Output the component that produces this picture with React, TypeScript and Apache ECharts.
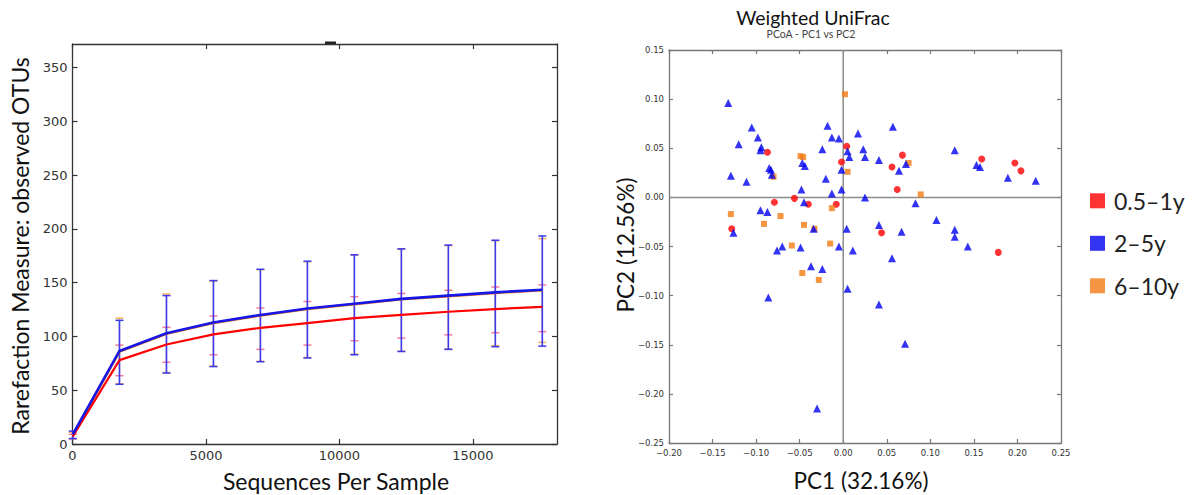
import React, { useEffect, useRef } from 'react';
import * as echarts from 'echarts';

// ---------- Rarefaction (left) ----------
const seqPerSample = [10, 1760, 3520, 5280, 7040, 8800, 10560, 12320, 14080, 15840, 17600];
const otu05to1yMean = [7, 78, 92.5, 102, 108, 112.5, 117, 120, 123, 125.5, 127.5];
const otu05to1yLow = [5, 63.5, 76, 83, 88, 92, 96, 98.5, 101.5, 103.5, 104.5];
const otu05to1yHigh = [9, 92, 108.5, 119, 126.5, 132.5, 137, 140, 143, 146, 148];
const otu2to5yMean = [9, 86.5, 103, 113, 120, 126, 130.5, 135, 138, 141, 143.5];
const otu2to5yLow = [5, 55.5, 66, 72, 76.5, 80, 83, 86, 88, 90.5, 91];
const otu2to5yHigh = [12, 115, 138, 152, 162.5, 170, 176, 181.5, 185, 189.5, 193.5];
const otu6to10yMean = [8, 86, 102.5, 112.5, 119.5, 125.5, 130, 134.5, 137.5, 140.5, 143];
const otu6to10yLow = [5, 56, 66.5, 72.5, 77, 80.5, 83.5, 86.5, 88.5, 91.5, 94.5];
const otu6to10yHigh = [11, 117, 139.5, 151.5, 162, 169.5, 175.5, 181, 184.5, 189, 191];
const seqTicks = [0, 5000, 10000, 15000];
const otuTicks = [0, 50, 100, 150, 200, 250, 300, 350];

// ---------- PCoA (right) ----------
const pcoa05to1y: number[][] = [
  [-0.087, 0.046], [-0.079, -0.005], [-0.056, -0.001], [-0.040, -0.007], [-0.008, -0.007],
  [-0.002, 0.036], [0.004, 0.052], [0.068, 0.043], [0.056, 0.031], [0.062, 0.008],
  [0.159, 0.039], [0.197, 0.035], [0.204, 0.027], [-0.128, -0.032], [0.044, -0.036], [0.178, -0.056],
];
const pcoa2to5y: number[][] = [
  [-0.132, 0.096], [-0.105, 0.071], [-0.098, 0.061], [-0.120, 0.054], [-0.094, 0.051],
  [-0.095, 0.048], [-0.129, 0.022], [-0.111, 0.016], [-0.085, 0.030], [-0.083, 0.028],
  [-0.082, 0.023], [-0.048, 0.008], [-0.047, 0.035], [-0.044, 0.032], [-0.024, 0.049],
  [-0.018, 0.073], [-0.013, 0.061], [-0.005, 0.060], [-0.020, 0.019], [-0.013, 0.004],
  [-0.002, 0.008], [-0.002, 0.028], [0.005, 0.047], [0.007, 0.041], [0.017, 0.065],
  [-0.045, -0.005], [-0.095, -0.013], [-0.087, -0.015], [0.057, 0.072], [0.023, 0.049],
  [0.025, 0.041], [0.041, 0.038], [0.064, 0.027], [0.072, 0.034], [0.128, 0.048],
  [0.153, 0.033], [0.157, 0.031], [0.189, 0.020], [0.221, 0.017], [0.025, 0.000],
  [0.083, -0.006], [0.107, -0.023], [-0.126, -0.036], [-0.034, -0.032], [0.004, -0.032],
  [-0.076, -0.054], [-0.070, -0.050], [-0.049, -0.051], [-0.005, -0.050], [0.011, -0.054],
  [-0.037, -0.070], [-0.024, -0.073], [0.005, -0.093], [-0.086, -0.102], [0.041, -0.028],
  [0.067, -0.035], [0.128, -0.033], [0.128, -0.040], [0.143, -0.050], [0.056, -0.062],
  [0.041, -0.109], [0.071, -0.149], [-0.030, -0.215],
];
const pcoa6to10y: number[][] = [
  [0.002, 0.105], [-0.049, 0.042], [-0.046, 0.041], [-0.080, 0.021], [0.005, 0.026],
  [-0.129, -0.017], [-0.072, -0.019], [-0.013, -0.011], [0.075, 0.035], [0.089, 0.003],
  [-0.091, -0.027], [-0.045, -0.028], [-0.033, -0.032], [-0.059, -0.049], [-0.015, -0.047],
  [-0.047, -0.077], [-0.028, -0.084],
];
const pc1Ticks = [-0.2, -0.15, -0.1, -0.05, 0, 0.05, 0.1, 0.15, 0.2, 0.25];
const pc2Ticks = [-0.25, -0.2, -0.15, -0.1, -0.05, 0, 0.05, 0.1, 0.15];
const groupNames = ['0.5–1y', '2–5y', '6–10y'];

const RED = '#ff0000';
const BLUE = '#0000f0';
const ORANGE = '#f27b12';
const TICK_FONT = 'DejaVu Sans';
const TITLE_FONT = 'Lato';

const fmtPc = (v: number) => {
  if (Math.abs(v) < 1e-9) return '0.00';
  return (v < 0 ? '\u2212' : '') + Math.abs(v).toFixed(2);
};

function errBarSeries(name: string, xs: number[], lo: number[], hi: number[], color: string, vWidth: number, z: number) {
  return {
    type: 'custom',
    name,
    xAxisIndex: 0,
    yAxisIndex: 0,
    z,
    silent: true,
    data: xs.map((x, i) => [x, lo[i], hi[i]]),
    encode: { x: 0, y: [1, 2] },
    renderItem: (_p: any, api: any) => {
      const x = api.value(0);
      const top = api.coord([x, api.value(2)]);
      const bot = api.coord([x, api.value(1)]);
      const hw = 4;
      const style = { stroke: color, lineWidth: 1.5 };
      return {
        type: 'group',
        children: [
          { type: 'line', shape: { x1: top[0], y1: top[1], x2: bot[0], y2: bot[1] }, style: { stroke: color, lineWidth: vWidth } },
          { type: 'line', shape: { x1: top[0] - hw, y1: top[1], x2: top[0] + hw, y2: top[1] }, style },
          { type: 'line', shape: { x1: bot[0] - hw, y1: bot[1], x2: bot[0] + hw, y2: bot[1] }, style },
        ],
      };
    },
  };
}

function frameAxis(kind: 'x' | 'y', grid: number, min: number, max: number, position: string, ticks: number[], showLabel: boolean, color: string, labelSize: number, fmt?: (v: number) => string, tickLen = 5) {
  return {
    gridIndex: grid,
    type: 'value',
    min,
    max,
    position,
    axisLine: { show: true, onZero: false, lineStyle: { color, width: 1.3 } },
    axisTick: { show: true, inside: true, length: tickLen, customValues: ticks, lineStyle: { color, width: 1.2 } },
    axisLabel: {
      show: showLabel,
      customValues: ticks,
      fontFamily: TICK_FONT,
      fontSize: labelSize,
      color: '#333',
      margin: kind === 'x' ? 5 : 5,
      formatter: fmt ? (v: number) => fmt(v) : (v: number) => String(v),
    },
    splitLine: { show: false },
  };
}

export default function App() {
  const ref = useRef<HTMLDivElement>(null);
  useEffect(() => {
    const chart = echarts.init(ref.current!, null, { renderer: 'svg' });
    const option: any = {
      animation: false,
      backgroundColor: '#ffffff',
      grid: [
        { left: 72.5, top: 44, width: 484.5, height: 400 },
        { left: 669, top: 50, width: 392, height: 393 },
      ],
      xAxis: [
        frameAxis('x', 0, 0, 18150, 'bottom', seqTicks, true, '#333', 13),
        frameAxis('x', 0, 0, 18150, 'top', seqTicks, false, '#333', 13),
        frameAxis('x', 1, -0.2, 0.25, 'bottom', pc1Ticks, true, '#777', 8.5, fmtPc, 4),
        frameAxis('x', 1, -0.2, 0.25, 'top', pc1Ticks, false, '#777', 8.5, fmtPc, 4),
      ],
      yAxis: [
        frameAxis('y', 0, 0, 372, 'left', otuTicks, true, '#333', 13),
        frameAxis('y', 0, 0, 372, 'right', otuTicks, false, '#333', 13),
        frameAxis('y', 1, -0.25, 0.15, 'left', pc2Ticks, true, '#777', 8.5, fmtPc, 4),
        frameAxis('y', 1, -0.25, 0.15, 'right', pc2Ticks, false, '#777', 8.5, fmtPc, 4),
      ],
      legend: {
        orient: 'vertical',
        left: 1085,
        top: 181.8,
        itemWidth: 15,
        itemHeight: 15,
        itemGap: 14.5,
        icon: 'rect',
        data: groupNames,
        textStyle: { fontFamily: TITLE_FONT, fontSize: 23, color: '#222', lineHeight: 28, padding: [0, 0, 0, 4] },
      },
      graphic: [
        { type: 'rect', shape: { x: 325, y: 41.5, width: 11, height: 3 }, style: { fill: '#222' } },
        { type: 'text', x: 20, y: 246, rotation: Math.PI / 2, style: { text: 'Rarefaction Measure: observed OTUs', fontFamily: TITLE_FONT, fontSize: 23, fill: '#111', align: 'center', verticalAlign: 'middle' } },
        { type: 'text', x: 336, y: 481, style: { text: 'Sequences Per Sample', fontFamily: TITLE_FONT, fontSize: 23, fill: '#111', align: 'center', verticalAlign: 'middle' } },
        { type: 'text', x: 813, y: 17, style: { text: 'Weighted UniFrac', fontFamily: TITLE_FONT, fontSize: 19.5, fill: '#111', align: 'center', verticalAlign: 'middle' } },
        { type: 'text', x: 811, y: 34, style: { text: 'PCoA - PC1 vs PC2', fontFamily: TITLE_FONT, fontSize: 10.5, fill: '#444', align: 'center', verticalAlign: 'middle' } },
        { type: 'text', x: 625, y: 245, rotation: Math.PI / 2, style: { text: 'PC2 (12.56%)', fontFamily: TITLE_FONT, fontSize: 22.5, fill: '#111', align: 'center', verticalAlign: 'middle' } },
        { type: 'text', x: 861, y: 480, style: { text: 'PC1 (32.16%)', fontFamily: TITLE_FONT, fontSize: 22.5, fill: '#111', align: 'center', verticalAlign: 'middle' } },
      ],
      series: [
        errBarSeries('6–10y error', seqPerSample, otu6to10yLow, otu6to10yHigh, 'rgba(245,160,60,0.8)', 1.2, 1),
        errBarSeries('0.5–1y error', seqPerSample, otu05to1yLow, otu05to1yHigh, 'rgba(238,70,100,0.7)', 1.2, 2),
        errBarSeries('2–5y error', seqPerSample, otu2to5yLow, otu2to5yHigh, '#3a3aee', 1.6, 3),
        {
          type: 'line', name: '6–10y rarefaction', xAxisIndex: 0, yAxisIndex: 0, z: 4, symbol: 'none', silent: true,
          data: seqPerSample.map((x, i) => [x, otu6to10yMean[i]]),
          lineStyle: { color: ORANGE, width: 2.5 },
        },
        {
          type: 'line', name: '0.5–1y rarefaction', xAxisIndex: 0, yAxisIndex: 0, z: 5, symbol: 'none', silent: true,
          data: seqPerSample.map((x, i) => [x, otu05to1yMean[i]]),
          lineStyle: { color: RED, width: 2.2 },
        },
        {
          type: 'line', name: '2–5y rarefaction', xAxisIndex: 0, yAxisIndex: 0, z: 6, symbol: 'none', silent: true,
          data: seqPerSample.map((x, i) => [x, otu2to5yMean[i]]),
          lineStyle: { color: '#1616e6', width: 2.6 },
        },
        {
          type: 'line', name: 'PC2 zero', xAxisIndex: 2, yAxisIndex: 2, z: 1, symbol: 'none', silent: true,
          data: [[-0.2, 0], [0.25, 0]], lineStyle: { color: '#8c8c8c', width: 1.5 },
        },
        {
          type: 'line', name: 'PC1 zero', xAxisIndex: 2, yAxisIndex: 2, z: 1, symbol: 'none', silent: true,
          data: [[0, -0.25], [0, 0.15]], lineStyle: { color: '#8c8c8c', width: 1.5 },
        },
        {
          type: 'scatter', name: groupNames[0], xAxisIndex: 2, yAxisIndex: 2, z: 3,
          symbol: 'circle', symbolSize: 7, data: pcoa05to1y, itemStyle: { color: RED },
        },
        {
          type: 'scatter', name: groupNames[2], xAxisIndex: 2, yAxisIndex: 2, z: 4,
          symbol: 'rect', symbolSize: 6, data: pcoa6to10y, itemStyle: { color: ORANGE },
        },
        {
          type: 'scatter', name: groupNames[1], xAxisIndex: 2, yAxisIndex: 2, z: 5,
          symbol: 'triangle', symbolSize: 8, data: pcoa2to5y, itemStyle: { color: BLUE },
        },
      ],
    };
    chart.setOption(option);
    return () => chart.dispose();
  }, []);
  return <div ref={ref} style={{ position: 'absolute', left: 0, top: 0, width: 1196, height: 495 }} />;
}
